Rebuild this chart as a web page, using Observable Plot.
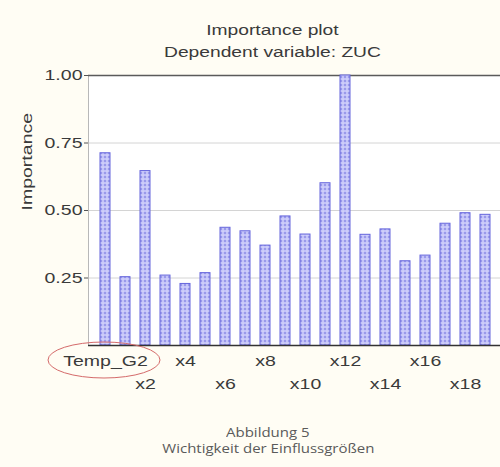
<!DOCTYPE html>
<html><head><meta charset="utf-8">
<script src="https://cdn.jsdelivr.net/npm/d3@7"></script>
<script src="https://cdn.jsdelivr.net/npm/@observablehq/plot@0.6"></script>
<style>
html,body{margin:0;padding:0;background:#fffdf4;width:500px;height:467px;overflow:hidden;}
#title{height:68px;box-sizing:border-box;padding-top:19px;padding-left:44px;text-align:center;font-family:"Liberation Sans",Arial,sans-serif;font-size:15.5px;color:#3a3a3a;line-height:22px;}
#title span,#caption span{display:inline-block;transform:scaleX(1.24);}
#chart{height:332px;}
#caption{box-sizing:border-box;padding-top:25px;padding-left:36px;text-align:center;font-family:"Open Sans",sans-serif;font-size:12.5px;color:#5a5a5a;line-height:16px;}
#caption span{transform:scaleX(1.2);}
</style>
</head><body>
<div id="title"><span>Importance plot</span><br><span>Dependent variable: ZUC</span></div>
<div id="chart"></div>
<div id="caption"><span>Abbildung 5</span><br><span>Wichtigkeit der Einflussgrößen</span></div>
<script>
const categories = ["Temp_G2","x1","x2","x3","x4","x5","x6","x7","x8","x9","x10","x11","x12","x13","x14","x15","x16","x17","x18","x19"];
const importance = [0.712,0.253,0.646,0.259,0.228,0.268,0.436,0.423,0.370,0.478,0.411,0.601,1.000,0.410,0.430,0.312,0.333,0.451,0.490,0.484];
const labelsRow1 = ["Temp_G2","x4","x8","x12","x16"];
const labelsRow2 = ["x2","x6","x10","x14","x18"];
const yTicks = [0.25,0.5,0.75,1.0];
const yLabel = "Importance";
const highlighted = "Temp_G2";

const data = categories.map((c,i)=>({name:c, value:importance[i]}));

const ellipseMark = (index, scales, values, dimensions) => {
  const bw = typeof scales.x.bandwidth === "function" ? scales.x.bandwidth() : 10;
  const cx = scales.x(highlighted) + bw/2 - 1;
  const cy = scales.y(0) + 15;
  const e = d3.create("svg:ellipse")
    .attr("cx", cx).attr("cy", cy).attr("rx", 56).attr("ry", 18)
    .attr("fill","none").attr("stroke","#d46a6a").attr("stroke-width",1);
  return e.node();
};

const chart = Plot.plot({
  width: 500,
  height: 332,
  marginLeft: 88,
  marginRight: 0,
  marginTop: 7,
  marginBottom: 55,
  style: {fontFamily: "'Liberation Sans', Arial, sans-serif", fontSize: "15px", color: "#3a3a3a", background: "transparent", overflow: "visible"},
  x: {type: "band", domain: categories, range: [88, 501], paddingInner: 0.5, paddingOuter: 0.28, axis: null},
  y: {domain: [0, 1], axis: null},
  marks: [
    Plot.frame({fill: "white", stroke: null}),
    Plot.gridY(yTicks.slice(0,3), {stroke: "#d4d4d4", strokeOpacity: 1}),
    Plot.frame({anchor: "left", stroke: "#b8b8b8"}),
    Plot.ruleY([1], {stroke: "#5a5a5a", strokeWidth: 1.5}),
    Plot.barY(data, {x: "name", y: "value", fill: "url(#dots)", stroke: "#6464dc", strokeWidth: 1}),
    Plot.ruleY([0], {stroke: "#333", strokeWidth: 1.5}),
    Plot.axisY({ticks: yTicks, tickFormat: ".2f", tickSize: 4, tickPadding: 2, label: null, stroke: "#555"}),
    Plot.text([yLabel], {frameAnchor: "left", rotate: -90, dx: -61, fontSize: 15}),
    Plot.axisX({ticks: labelsRow1, tickSize: 0, tickPadding: 10, label: null}),
    Plot.axisX({ticks: labelsRow2, tickSize: 0, tickPadding: 33, label: null}),
    ellipseMark
  ]
});

document.getElementById("chart").appendChild(chart);

const svg = d3.select(chart);
const defs = svg.insert("defs", ":first-child");
const pat = defs.append("pattern").attr("id","dots").attr("width",4).attr("height",4).attr("patternUnits","userSpaceOnUse");
pat.append("rect").attr("width",4).attr("height",4).attr("fill","#c3c3f8");
pat.append("circle").attr("cx",1).attr("cy",1).attr("r",0.75).attr("fill","#5c5cd6");
pat.append("circle").attr("cx",3).attr("cy",3).attr("r",0.6).attr("fill","#f0f0ff");

chart.querySelectorAll("text").forEach(t => {
  const L = t.getComputedTextLength();
  if (L > 0) {
    t.setAttribute("textLength", (L * 1.3).toFixed(1));
    t.setAttribute("lengthAdjust", "spacingAndGlyphs");
  }
});
</script>
</body></html>
